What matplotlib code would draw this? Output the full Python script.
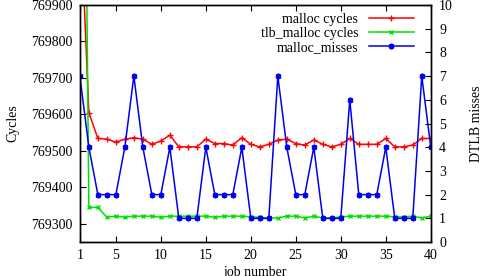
import matplotlib
matplotlib.use('Agg')
import matplotlib.pyplot as plt
import numpy as np

plt.rcParams['font.family'] = ['Liberation Serif', 'DejaVu Serif']
plt.rcParams['font.size'] = 10

# --- data ---
jobs = list(range(1, 41))

malloc_cycles = [770190, 769605, 769534, 769532, 769524, 769532, 769536, 769532, 769518, 769527,
                 769543, 769511, 769511, 769511, 769532, 769520, 769520, 769516, 769536, 769518,
                 769511, 769518, 769530, 769532, 769520, 769516, 769530, 769518, 769511, 769518,
                 769534, 769518, 769518, 769518, 769534, 769511, 769511, 769516, 769534, 769534]

tlb_malloc_cycles = [771900, 769345, 769345, 769318, 769321, 769318, 769321, 769321, 769321, 769318,
                     769321, 769321, 769321, 769321, 769321, 769318, 769321, 769321, 769321, 769319,
                     769318, 769316, 769316, 769321, 769321, 769316, 769321, 769316, 769316, 769319,
                     769321, 769321, 769321, 769321, 769321, 769319, 769319, 769321, 769316, 769321]

malloc_misses = [7, 4, 2, 2, 2, 4, 7, 4, 2, 2,
                 4, 1, 1, 1, 4, 2, 2, 2, 4, 1,
                 1, 1, 7, 4, 2, 2, 4, 1, 1, 1,
                 6, 2, 2, 2, 4, 1, 1, 1, 7, 4]

x_ticks = [1, 5, 10, 15, 20, 25, 30, 35, 40]
left_ticks = [769300, 769400, 769500, 769600, 769700, 769800, 769900]
right_ticks = list(range(0, 11))

asterisk = (6, 2, 0)

fig = plt.figure(figsize=(4.84, 2.76), dpi=100)
ax = fig.add_axes([0.165, 0.123, 0.725, 0.859])
ax2 = ax.twinx()

l1 = ax.plot(jobs, malloc_cycles, color='#ff0000', linewidth=1.1, marker='+',
             markersize=4, markeredgewidth=1.0, label='malloc cycles')
l2 = ax.plot(jobs, tlb_malloc_cycles, color='#00e000', linewidth=1.1, marker='x',
             markersize=3.5, markeredgewidth=1.0, label='tlb_malloc cycles')
l3 = ax2.plot(jobs, malloc_misses, color='#0000ee', linewidth=1.1, marker=asterisk,
              markersize=4, markeredgewidth=1.4, label='malloc_misses')

ax.set_xlim(1, 40)
ax.set_ylim(769250, 769900)
ax2.set_ylim(0, 10)
ax.set_xticks(x_ticks)
ax.set_yticks(left_ticks)
ax2.set_yticks(right_ticks)
ax.ticklabel_format(axis='y', useOffset=False, style='plain')

ax.tick_params(direction='in', top=True, length=4, width=0.8, pad=5)
ax2.tick_params(direction='in', length=4, width=0.8, pad=6)
for a in (ax, ax2):
    for s in a.spines.values():
        s.set_linewidth(1.0)

ax.set_xlabel('job number', labelpad=3)
ax.set_ylabel('Cycles', labelpad=9)
ax2.set_ylabel('DTLB misses', labelpad=12)

lns = l1 + l2 + l3
ax.legend(lns, [l.get_label() for l in lns], loc='upper right', frameon=False,
          markerfirst=False, handlelength=3.2, borderaxespad=0.2, labelspacing=0.05,
          bbox_to_anchor=(0.975, 1.0), fontsize=10)

fig.savefig('out.png', dpi=100)
